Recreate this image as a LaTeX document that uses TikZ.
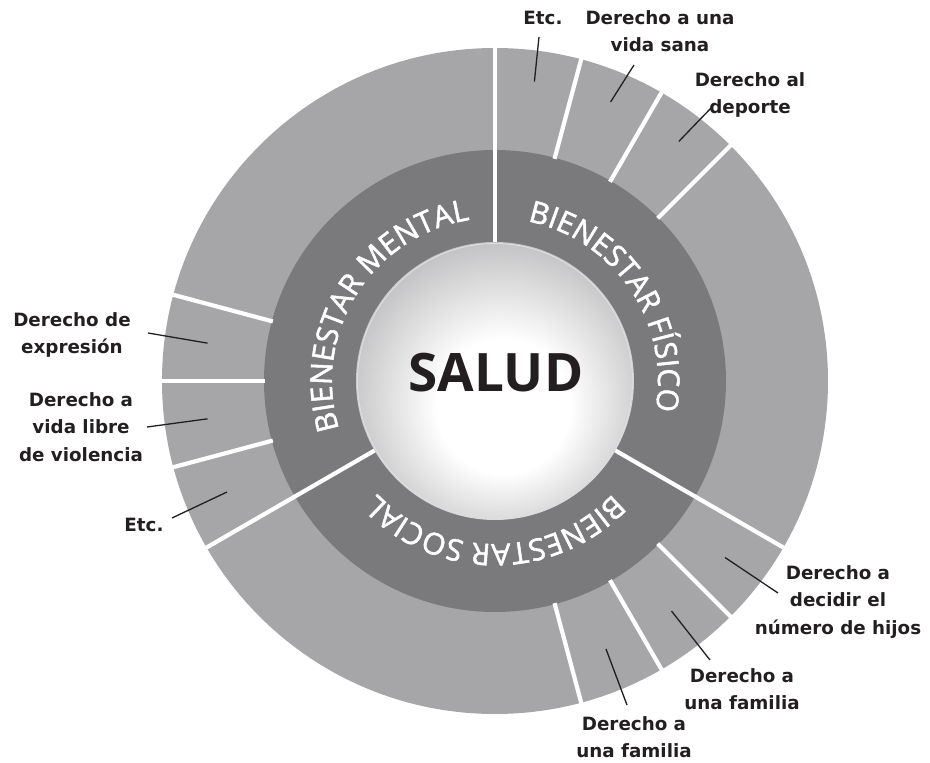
\documentclass[tikz,border=0pt]{standalone}
\usepackage{fontspec}
\setmainfont{Open Sans}
\newfontfamily\lblface{DejaVu Sans}
\newfontfamily\ringface{Open Sans}[FakeBold=1.6]
\usetikzlibrary{decorations.text}
\definecolor{ringout}{RGB}{166,166,168}
\definecolor{ringin}{RGB}{122,122,125}
\definecolor{ballgray}{RGB}{143,143,146}
\definecolor{ballmid}{RGB}{186,186,188}
\definecolor{ink}{RGB}{35,31,32}
\pgfdeclareradialshading{saludball}{\pgfpoint{2bp}{-6bp}}{color(0bp)=(white);color(12bp)=(white);color(30bp)=(ballmid);color(50bp)=(ballgray)}
\newcommand\ringfont{\ringface\fontsize{30}{30}\selectfont}
\tikzset{
  lbl/.style={font=\lblface\fontsize{18.3}{27.5}\selectfont\bfseries,align=center,text=ink,inner sep=0pt},
  pointer/.style={ink,line width=1.3},
  cut/.style={white,line width=4.2},
  ringtext/.style={decorate,decoration={text along path,text align=center,text color=white,text={|\ringfont|#1}}}
}

\begin{document}
\begin{tikzpicture}[line cap=butt,x=1pt,y=1pt]
\useasboundingbox (-495,-382) rectangle (435,381);
\fill[ringout] (0,0) circle (333);
\fill[ringin] (0,0) circle (231);
\shade[shading=saludball] (0,0) circle (139);
\draw[white!70!ballgray,line width=1] (0,0) circle (137.5);
\foreach \a in {90,-30,210} \draw[cut] (\a:139) -- (\a:335);
\foreach \a in {75,60,45,-45,-60,-75,195,180,165} \draw[cut] (\a:230) -- (\a:335);
\path[ringtext={BIENESTAR MENTAL}] (208:163) arc[start angle=208,end angle=88,radius=163];
\path[ringtext={BIENESTAR FÍSICO}] (94:163) arc[start angle=94,end angle=-26,radius=163];
\path[ringtext={BIENESTAR SOCIAL}] (-30:163) arc[start angle=-30,end angle=-150,radius=163];
\node[font=\fontsize{53}{53}\selectfont\bfseries,text=ink] (salud) at (1,8) {SALUD};
% points in the segments
\coordinate (pA1) at (82.5:302);
\coordinate (pA2) at (67.5:302);
\coordinate (pA3) at (52.5:302);
\coordinate (pM1) at (172.5:290);
\coordinate (pM2) at (187.5:290);
\coordinate (pM3) at (202.5:290);
\coordinate (pS1) at (-37.5:290);
\coordinate (pS2) at (-52.5:290);
\coordinate (pS3) at (-67.5:290);
% labels
\node[lbl] (etcA) at (48,363) {Etc.};
\node[lbl] (sana) at (165,350) {Derecho a una\\vida sana};
\node[lbl] (deporte) at (255,286) {Derecho al\\deporte};
\node[lbl] (expresion) at (-423,46) {Derecho de\\expresión};
\node[lbl] (violencia) at (-414,-46) {Derecho a\\vida libre\\de violencia};
\node[lbl] (etcB) at (-351,-144) {Etc.};
\node[lbl] (hijos) at (343,-221) {Derecho a\\decidir el\\número de hijos};
\node[lbl] (familiaA) at (247,-308) {Derecho a\\una familia};
\node[lbl] (familiaB) at (139,-356) {Derecho a\\una familia};
\draw[pointer] ([shift={(-4,-19)}]etcA.center) -- (pA1);
\draw[pointer] ([shift={(-26,-34)}]sana.center) -- (pA2);
\draw[pointer] ([shift={(-38,-12)}]deporte.center) -- (pA3);
\draw[pointer] ([shift={(76,2)}]expresion.center) -- (pM1);
\draw[pointer] ([shift={(66,0)}]violencia.center) -- (pM2);
\draw[pointer] ([shift={(28,7)}]etcB.center) -- (pM3);
\draw[pointer] ([shift={(-60,9)}]hijos.center) -- (pS1);
\draw[pointer] ([shift={(-32,29)}]familiaA.center) -- (pS2);
\draw[pointer] ([shift={(-7,32)}]familiaB.center) -- (pS3);
\end{tikzpicture}
\end{document}
